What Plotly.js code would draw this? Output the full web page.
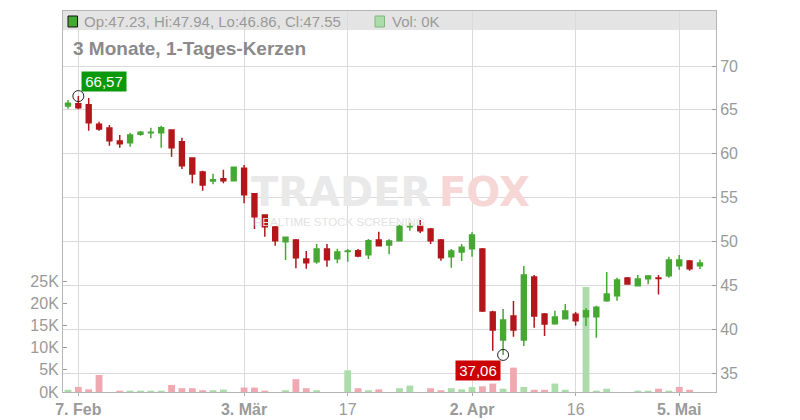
<!DOCTYPE html>
<html>
<head>
<meta charset="utf-8">
<script src="https://cdn.plot.ly/plotly-3.0.1.min.js"></script>
<style>html,body{margin:0;padding:0;background:#fff;}#chart{width:800px;height:420px;}</style>
</head>
<body>
<div id="chart"></div>
<script>
// ---- data ----
const dates = ["2025-02-06","2025-02-07","2025-02-10","2025-02-11","2025-02-12","2025-02-13","2025-02-14","2025-02-17","2025-02-18","2025-02-19","2025-02-20","2025-02-21","2025-02-24","2025-02-25","2025-02-26","2025-02-27","2025-02-28","2025-03-03","2025-03-04","2025-03-05","2025-03-06","2025-03-07","2025-03-10","2025-03-11","2025-03-12","2025-03-13","2025-03-14","2025-03-17","2025-03-18","2025-03-19","2025-03-20","2025-03-21","2025-03-24","2025-03-25","2025-03-26","2025-03-27","2025-03-28","2025-03-31","2025-04-01","2025-04-02","2025-04-03","2025-04-04","2025-04-07","2025-04-08","2025-04-09","2025-04-10","2025-04-11","2025-04-14","2025-04-15","2025-04-16","2025-04-17","2025-04-22","2025-04-23","2025-04-24","2025-04-25","2025-04-28","2025-04-29","2025-04-30","2025-05-02","2025-05-05","2025-05-06","2025-05-07"];
const openP  = [65.44,65.70,65.59,63.35,62.93,61.45,61.26,62.21,62.40,62.40,62.70,61.37,59.51,57.92,56.89,57.15,56.92,58.34,55.44,53.01,51.64,49.97,50.16,48.00,47.69,49.14,48.03,48.84,48.94,48.49,50.16,49.59,50.08,51.66,51.72,51.42,50.16,48.26,48.80,49.17,49.14,41.95,38.76,41.50,38.76,45.94,41.73,40.62,41.19,41.69,41.42,41.42,43.24,43.82,45.83,44.95,45.75,45.82,46.09,47.23,47.77,47.23];
const highP  = [66.12,66.57,66.35,63.65,63.27,62.13,62.40,62.59,62.97,63.20,62.72,61.83,59.55,58.06,57.72,58.18,58.50,58.71,55.46,53.03,51.75,50.49,50.28,48.91,49.71,49.71,49.17,49.14,49.14,50.28,51.10,50.24,51.91,52.13,52.44,51.53,50.28,49.14,49.71,51.04,49.25,42.10,42.30,43.21,47.20,46.17,41.84,42.10,42.87,41.95,42.40,42.67,46.51,45.87,45.94,46.17,46.17,46.17,48.26,48.45,47.88,47.94];
const lowP   = [65.13,65.06,62.63,62.63,60.91,60.69,60.80,62.05,61.75,60.69,59.66,58.26,56.63,55.78,56.51,56.63,56.90,54.35,51.42,50.54,49.51,47.88,46.93,46.89,47.46,47.12,47.50,47.69,48.19,48.00,49.49,48.53,50.06,51.22,50.96,49.71,47.80,47.00,47.77,48.26,41.95,37.54,37.06,39.14,38.08,40.17,39.22,40.51,41.10,40.39,40.35,39.03,43.13,43.24,45.07,44.93,45.11,43.94,45.87,46.78,46.66,46.86];
const closeP = [65.75,65.25,63.54,62.82,61.49,61.14,62.13,62.44,62.46,62.97,60.69,58.63,57.69,56.43,57.04,56.92,58.45,55.33,52.82,51.68,50.08,50.47,48.14,47.58,49.14,47.92,48.80,48.90,48.34,50.08,49.51,50.05,51.72,51.70,51.22,50.08,48.14,48.91,49.33,50.73,42.07,39.90,41.04,39.90,46.17,41.50,40.59,41.38,42.07,40.96,42.10,42.49,44.00,45.60,45.15,45.72,46.06,45.78,47.88,47.88,46.89,47.55];
const volumeK = [0.5,1.15,0.6,3.85,0,0.3,0.3,0.3,0.3,0.3,1.6,0.85,0.85,0.4,0.4,0.55,0,1.0,1.0,0.3,0,0.4,2.9,0.85,0.4,0,0,4.9,0.85,0.4,0.6,0,0.85,1.45,0,0.85,0.4,0.85,0.6,1.1,1.3,1.9,0.75,5.5,1.15,0.5,0.5,1.9,0.5,0,23.7,0.3,0.75,0,0,0.3,0.3,0.75,0.3,1.15,0.5,0];
const volumeUp = [1,0,0,0,0,0,1,1,1,1,0,0,0,0,1,1,0,0,0,0,0,1,0,0,1,0,0,1,0,1,0,0,1,1,0,0,0,1,1,1,0,0,1,0,1,0,0,1,1,0,1,1,1,0,0,1,1,0,1,0,0,0];
const tickDates  = ["2025-02-07","2025-03-03","2025-03-17","2025-04-02","2025-04-16","2025-05-05"];
const tickLabels = ["<b>7. Feb</b>","<b>3. Mär</b>","17","<b>2. Apr</b>","16","<b>5. Mai</b>"];
const priceTicks = [35,40,45,50,55,60,65,70];
const volTicksK  = [0,5,10,15,20,25];
const chartTitle = "3 Monate, 1-Tages-Kerzen";

// ---- layout geometry ----
const L = 63, R = 84, T = 11, B = 28, W = 800 - L - R, H = 420 - T - B;
const px = v => (v - L) / W;
const py = v => (420 - B - v) / H;
const FONT = "Liberation Sans, Arial, sans-serif";
const GREEN = "#46a832", RED = "#b3171b";

const n = dates.length;
const last = n - 1;
let iMax = 0, iMin = 0;
for (let i = 0; i < n; i++) { if (highP[i] > highP[iMax]) iMax = i; if (lowP[i] < lowP[iMin]) iMin = i; }
const fmt = v => v.toFixed(2);
const fmtDE = v => v.toFixed(2).replace('.', ',');

const traces = [
  {
    type: 'bar', x: dates, y: volumeK.map(v => v * 1000), yaxis: 'y', xaxis: 'x',
    marker: { color: volumeUp.map(u => u ? '#acdcaa' : '#f0a8b1') }, width: 0.66, hoverinfo: 'skip', showlegend: false
  },
  {
    type: 'candlestick', x: dates, open: openP, high: highP, low: lowP, close: closeP,
    xaxis: 'x', yaxis: 'y2', whiskerwidth: 0,
    increasing: { line: { color: GREEN, width: 1.5 }, fillcolor: GREEN },
    decreasing: { line: { color: RED, width: 1.5 }, fillcolor: RED },
    showlegend: false, hoverinfo: 'skip'
  },
  {
    type: 'scatter', mode: 'markers', x: [dates[iMax], dates[iMin]], y: [highP[iMax], lowP[iMin]],
    xaxis: 'x', yaxis: 'y2', marker: { symbol: 'circle-open', size: 11, color: '#222', line: { width: 1, color: '#222' } },
    showlegend: false, hoverinfo: 'skip'
  }
];

const axisFont = { family: FONT, size: 16, color: '#9a9a9a' };
const layout = {
  width: 800, height: 420,
  margin: { l: L, r: R, t: T, b: B, pad: 0 },
  paper_bgcolor: '#fff', plot_bgcolor: '#fff',
  showlegend: false, boxgap: 0.33, bargap: 0.3,
  font: { family: FONT },
  xaxis: {
    type: 'category', categoryorder: 'array', categoryarray: dates,
    range: [-0.48, 62.55], rangeslider: { visible: false },
    tickmode: 'array', tickvals: tickDates, ticktext: tickLabels,
    tickfont: axisFont, ticks: 'outside', ticklen: 3, tickcolor: '#aaa',
    showgrid: true, gridcolor: '#dadada', gridwidth: 1,
    showline: true, linecolor: '#b5b5b5', mirror: true, zeroline: false, fixedrange: true
  },
  yaxis: {
    side: 'left', range: [0, H / 4.432 * 1000],
    tickmode: 'array', tickvals: volTicksK.map(v => v * 1000), ticktext: volTicksK.map(v => v + 'K'),
    tickfont: { family: FONT, size: 16, color: '#9a9a9a' }, ticks: 'inside', ticklen: 4, tickcolor: '#999',
    showgrid: false, zeroline: false, showline: true, linecolor: '#b5b5b5', fixedrange: true
  },
  yaxis2: {
    side: 'right', overlaying: 'y', range: [32.834, 76.271],
    tickmode: 'array', tickvals: priceTicks, ticktext: priceTicks.map(String),
    tickfont: axisFont, ticks: 'inside', ticklen: 4, tickcolor: '#999',
    showgrid: true, gridcolor: '#dadada', gridwidth: 1,
    zeroline: false, showline: true, linecolor: '#b5b5b5', fixedrange: true
  },
  shapes: [
    { type: 'rect', xref: 'paper', yref: 'paper', x0: 0, x1: 1, y0: py(30), y1: 1, fillcolor: '#e4e4e4', line: { width: 0 }, layer: 'below' },
    { type: 'rect', xref: 'paper', yref: 'paper', x0: px(68), x1: px(77.5), y0: py(27), y1: py(16), fillcolor: GREEN, line: { color: '#111', width: 1 } },
    { type: 'rect', xref: 'paper', yref: 'paper', x0: px(375), x1: px(384.5), y0: py(27), y1: py(16), fillcolor: '#acdcaa', line: { color: '#7fb97d', width: 1 } }
  ],
  annotations: [
    { xref: 'paper', yref: 'paper', x: px(249), y: py(192), xanchor: 'left', yanchor: 'middle', showarrow: false,
      text: '<b>TRADER</b>', font: { family: 'DejaVu Sans, sans-serif', size: 40, color: '#e9e9e9' } },
    { xref: 'paper', yref: 'paper', x: px(437), y: py(192), xanchor: 'left', yanchor: 'middle', showarrow: false,
      text: '<b>FOX</b>', font: { family: 'DejaVu Sans, sans-serif', size: 40, color: '#f7d6d6' } },
    { xref: 'paper', yref: 'paper', x: px(252), y: py(222), xanchor: 'left', yanchor: 'middle', showarrow: false,
      text: 'REALTIME STOCK SCREENING', font: { family: FONT, size: 11.5, color: '#e2e2e2' } },
    { xref: 'paper', yref: 'paper', x: px(82), y: py(21.5), xanchor: 'left', yanchor: 'middle', showarrow: false,
      text: 'Op:' + fmt(openP[last]) + ', Hi:' + fmt(highP[last]) + ', Lo:' + fmt(lowP[last]) + ', Cl:' + fmt(closeP[last]),
      font: { family: FONT, size: 15, color: '#9a9a9a' } },
    { xref: 'paper', yref: 'paper', x: px(390), y: py(21.5), xanchor: 'left', yanchor: 'middle', showarrow: false,
      text: 'Vol: ' + Math.round(volumeK[last]) + 'K', font: { family: FONT, size: 15, color: '#9a9a9a' } },
    { xref: 'paper', yref: 'paper', x: px(71), y: py(48), xanchor: 'left', yanchor: 'middle', showarrow: false,
      text: '<b>' + chartTitle + '</b>', font: { family: FONT, size: 19, color: '#8a8a8a' } },
    { xref: 'x', yref: 'y2', x: dates[iMax], y: highP[iMax], xanchor: 'left', yanchor: 'bottom', xshift: 3, yshift: 4,
      showarrow: false, text: fmtDE(highP[iMax]), bgcolor: '#0a990a', borderpad: 1, width: 42,
      font: { family: FONT, size: 15, color: '#fff' } },
    { xref: 'x', yref: 'y2', x: dates[iMin], y: lowP[iMin], xanchor: 'right', yanchor: 'top', xshift: -2, yshift: -5,
      showarrow: false, text: fmtDE(lowP[iMin]), bgcolor: '#cc0000', borderpad: 1, width: 42,
      font: { family: FONT, size: 15, color: '#fff' } }
  ]
};

Plotly.newPlot('chart', traces, layout, { staticPlot: true, displayModeBar: false });
</script>
</body>
</html>
